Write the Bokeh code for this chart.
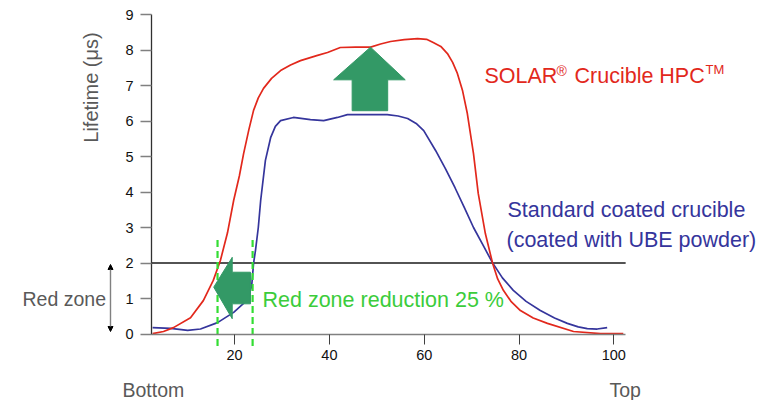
import math
from bokeh.plotting import figure
from bokeh.models import Label, Arrow, NormalHead, FixedTicker
from bokeh.embed import file_html
from bokeh.resources import INLINE

# ---------------- data ----------------
red_x = [2.7, 5, 7.1, 10.7, 13.4, 15.5, 17.0, 18.5, 19.8, 21.0, 21.9, 23.0, 24.0, 25.0, 26.1,
         27.8, 29.7, 31.8, 33.9, 37.5, 39.6, 42.3, 45.5, 48.7, 50.8, 52.9, 55.8, 58.6, 60.5,
         61.9, 63.5, 64.9, 66.0, 67.0, 68.1, 69.1, 70.4, 71.4, 72.9, 74.4, 75.5, 76.7, 78.3,
         80.3, 83.0, 86.0, 91.5, 97.2, 102.0]
red_y = [0.01, 0.07, 0.18, 0.46, 0.94, 1.51, 2.07, 2.85, 3.76, 4.45, 5.08, 5.75, 6.30, 6.65, 6.92,
         7.20, 7.42, 7.58, 7.70, 7.85, 7.93, 8.07, 8.08, 8.08, 8.17, 8.24, 8.29, 8.32, 8.30,
         8.21, 8.10, 7.90, 7.65, 7.34, 6.85, 6.21, 5.08, 3.96, 2.83, 2.01, 1.55, 1.23, 0.92,
         0.66, 0.45, 0.30, 0.07, 0.01, 0.01]

blue_x = [2.7, 6.5, 10.1, 12.8, 16.4, 19.8, 21.9, 23.0, 23.6, 24.0, 24.4, 25.0, 25.5, 26.5, 27.6,
          28.6, 29.7, 32.4, 36.0, 38.8, 41.7, 43.8, 46.6, 52.2, 54.5, 56.5, 58.3, 59.9, 62.4,
          64.5, 66.5, 68.5, 70.4, 72.5, 74.4, 76.5, 78.8, 81.5, 84.5, 87.5, 90.2, 92.5, 94.4,
          96.5, 98.6]
blue_y = [0.18, 0.16, 0.10, 0.14, 0.32, 0.61, 0.86, 1.08, 1.35, 1.99, 2.35, 3.0, 3.76, 4.89, 5.53,
          5.85, 6.01, 6.10, 6.04, 6.01, 6.10, 6.18, 6.18, 6.18, 6.14, 6.07, 5.93, 5.73, 5.17,
          4.65, 4.12, 3.55, 3.00, 2.48, 2.01, 1.58, 1.23, 0.92, 0.66, 0.45, 0.30, 0.20, 0.15,
          0.14, 0.18]

y_ticks = [0, 1, 2, 3, 4, 5, 6, 7, 8, 9]
x_ticks = [20, 40, 60, 80, 100]
threshold = 2.0
x_start, x_end = 2.5, 102.5
red_zone_bounds = [16.4, 23.8]
dash_y_top, dash_y_bottom = 2.65, -0.38

# block arrows (polygon outlines in data units)
up_arrow_x = [44.8, 52.3, 52.3, 56.0, 48.67, 40.9, 44.8]
up_arrow_y = [6.29, 6.29, 7.16, 7.16, 8.08, 7.16, 7.16]
left_arrow_x = [23.35, 23.35, 19.5, 19.5, 15.6, 19.5, 19.5]
left_arrow_y = [0.85, 1.74, 1.74, 2.16, 1.32, 0.43, 0.85]

# ---------------- styles ----------------
FONT = "Liberation Sans"
RED = "#e2281c"
BLUE = "#35359c"
GREEN_TXT = "#3bcc3b"
GREEN_ARROW = "#339966"
GREY_TXT = "#595959"

W, H = 762, 400
PX_X = 4.74
PX_Y = 35.5
x0 = -139.3 / PX_X
x1 = x0 + W / PX_X
y1 = 333.5 / PX_Y
y0 = y1 - H / PX_Y

p = figure(width=W, height=H, x_range=(x0, x1), y_range=(y0, y1),
           output_backend="svg", toolbar_location=None,
           min_border=0, min_border_left=0, min_border_right=0,
           min_border_top=0, min_border_bottom=0)
p.outline_line_color = None
p.xgrid.visible = False
p.ygrid.visible = False
p.background_fill_color = "white"
p.border_fill_color = "white"

# axes
xa = p.xaxis[0]
xa.fixed_location = 0
xa.bounds = (x_start, x_end)
xa.ticker = FixedTicker(ticks=x_ticks)
xa.major_tick_out = 10
xa.major_tick_in = 0
xa.minor_tick_line_color = None
xa.axis_line_color = "#808080"
xa.axis_line_width = 1.5
xa.major_tick_line_color = "#404040"
xa.major_label_text_font = FONT
xa.major_label_text_font_size = "14.5px"
xa.major_label_text_color = "#111111"
xa.major_label_standoff = 6

ya = p.yaxis[0]
ya.fixed_location = x_start
ya.bounds = (0, 9)
ya.ticker = FixedTicker(ticks=y_ticks)
ya.major_tick_out = 11
ya.major_tick_in = 0
ya.minor_tick_line_color = None
ya.axis_line_color = "#303030"
ya.axis_line_width = 1.3
ya.major_tick_line_color = "#808080"
ya.major_tick_line_width = 1.3
ya.major_label_text_font = FONT
ya.major_label_text_font_size = "14.5px"
ya.major_label_text_color = "#111111"
ya.major_label_standoff = 7

# threshold line
p.segment(x0=[x_start], y0=[threshold], x1=[x_end], y1=[threshold],
          line_color="#1a1a1a", line_width=1.6)

# curves
p.line(blue_x, blue_y, line_color=BLUE, line_width=1.7)
p.line(red_x, red_y, line_color=RED, line_width=1.7)

# dashed red zone bounds
p.segment(x0=red_zone_bounds, y0=[dash_y_top] * 2, x1=red_zone_bounds, y1=[dash_y_bottom] * 2,
          line_color="#33dd33", line_width=2.2, line_dash="7 4")

# block arrows
p.patch(up_arrow_x, up_arrow_y, fill_color=GREEN_ARROW, line_color=GREEN_ARROW)
p.patch(left_arrow_x, left_arrow_y, fill_color=GREEN_ARROW, line_color=GREEN_ARROW)

def px(xp):
    return (xp - 139.3) / PX_X

def py(yp):
    return (333.5 - yp) / PX_Y

# red zone double arrow
p.add_layout(Arrow(x_start=px(110), y_start=py(331), x_end=px(110), y_end=py(264),
                   line_color="#808080", line_width=1.4,
                   start=NormalHead(size=5, fill_color="black", line_color="black"),
                   end=NormalHead(size=5, fill_color="black", line_color="black")))

def lab(text, x, y, size, color, align="left", baseline="middle", angle=0):
    p.add_layout(Label(x=x, y=y, text=text, text_font=FONT, text_font_size=size,
                       text_color=color, text_align=align, text_baseline=baseline,
                       angle=angle))

lab("SOLAR", px(484), py(75.5), "21.5px", RED)
lab("®", px(556), py(70), "14px", RED)
lab("Crucible HPC", px(574), py(75.5), "21.5px", RED)
lab("TM", px(705), py(69), "13px", RED)

lab("Standard coated crucible", px(507), py(209), "21.5px", BLUE)
lab("(coated with UBE powder)", px(506), py(239), "21.5px", BLUE)

lab("Red zone reduction 25 %", px(262), py(299), "21.5px", GREEN_TXT)
lab("Red zone", px(22), py(298), "19.5px", GREY_TXT)
lab("Bottom", px(122), py(389), "19.5px", GREY_TXT)
lab("Top", px(609), py(389), "19.5px", GREY_TXT)
lab("Lifetime (μs)", px(90), py(87), "20px", GREY_TXT, align="center",
    baseline="middle", angle=math.pi / 2)

open("out.html", "w").write(file_html(p, INLINE))
